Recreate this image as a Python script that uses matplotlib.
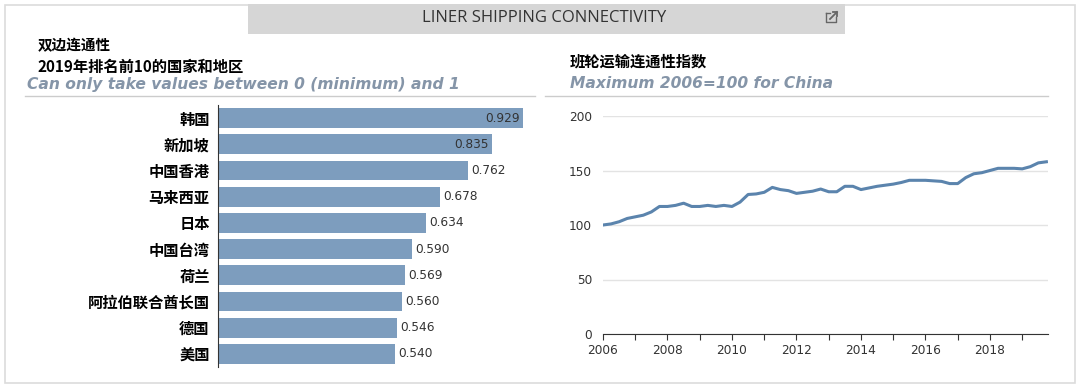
import numpy as np
import matplotlib
matplotlib.use("Agg")
import matplotlib.pyplot as plt
from matplotlib.patches import Rectangle
from matplotlib.lines import Line2D

plt.rcParams['font.family'] = ['Noto Sans CJK SC', 'DejaVu Sans']

# bar chart data
countries = ['韩国', '新加坡', '中国香港', '马来西亚', '日本',
             '中国台湾', '荷兰', '阿拉伯联合酋长国', '德国', '美国']
connectivity = [0.929, 0.835, 0.762, 0.678, 0.634,
                0.590, 0.569, 0.560, 0.546, 0.540]

# line chart data (quarterly, 2006Q1 - 2019Q4)
quarters = [2006 + i * 0.25 for i in range(56)]
lsci = [100, 101, 103, 106, 107.5, 109, 112, 117,
        117, 118, 120, 117, 117, 118, 117, 118,
        117, 121, 128, 128.5, 130, 134.5, 132.5, 131.5,
        129, 130, 131, 133, 130.5, 130.5, 135.5, 135.5,
        132.5, 134, 135.5, 136.5, 137.5, 139, 141, 141,
        141, 140.5, 140, 138, 138, 143.5, 147, 148,
        150, 152, 152, 152, 151.5, 153.5, 157, 158]
year_ticks = list(range(2006, 2020))
year_labels = [str(y) if y % 2 == 0 else '' for y in year_ticks]

W, H = 1080, 389
fig = plt.figure(figsize=(W / 100, H / 100), dpi=100)

def fx(px):
    return px / W

def fy(py):
    return 1 - py / H

# outer frame
fig.patches.append(Rectangle((fx(5), fy(383)), fx(1070), (378) / H,
                             transform=fig.transFigure, fill=False,
                             edgecolor='#dcdcdc', linewidth=1.2))
# header bar
fig.patches.append(Rectangle((fx(248), fy(34)), fx(597), 30 / H,
                             transform=fig.transFigure, facecolor='#d6d6d6',
                             edgecolor='none'))
fig.text(fx(544), fy(18), 'LINER SHIPPING CONNECTIVITY', ha='center', va='center',
         fontsize=12, color='#333333', family=['Open Sans', 'DejaVu Sans'])
# little external-link icon
icx, icy = 826, 11
fig.add_artist(Line2D([fx(icx), fx(icx), fx(icx + 10), fx(icx + 10)],
                      [fy(icy + 2), fy(icy + 11), fy(icy + 11), fy(icy + 6)],
                      transform=fig.transFigure, color='#666666', lw=1))
fig.add_artist(Line2D([fx(icx), fx(icx + 4)], [fy(icy + 2), fy(icy + 2)],
                      transform=fig.transFigure, color='#666666', lw=1))
fig.add_artist(Line2D([fx(icx + 4), fx(icx + 11)], [fy(icy + 8), fy(icy + 1)],
                      transform=fig.transFigure, color='#666666', lw=1.3))
fig.add_artist(Line2D([fx(icx + 7), fx(icx + 11), fx(icx + 11)],
                      [fy(icy + 1), fy(icy + 1), fy(icy + 5)],
                      transform=fig.transFigure, color='#666666', lw=1.3))

# titles
fig.text(fx(38), fy(45), '双边连通性', fontsize=10.5, fontweight='bold', va='center')
fig.text(fx(38), fy(67), '2019年排名前10的国家和地区', fontsize=11, fontweight='bold', va='center')
fig.text(fx(27), fy(84), 'Can only take values between 0 (minimum) and 1', fontsize=11.2,
         fontweight='bold', style='italic', color='#8595a8', va='center',
         family=['DejaVu Sans'])
fig.text(fx(570), fy(62), '班轮运输连通性指数', fontsize=11, fontweight='bold', va='center')
fig.text(fx(570), fy(84), 'Maximum 2006=100 for China', fontsize=11.2,
         fontweight='bold', style='italic', color='#8595a8', va='center',
         family=['DejaVu Sans'])
fig.add_artist(Line2D([fx(25), fx(535)], [fy(96), fy(96)], transform=fig.transFigure,
                      color='#cccccc', lw=1))
fig.add_artist(Line2D([fx(545), fx(1048)], [fy(96), fy(96)], transform=fig.transFigure,
                      color='#cccccc', lw=1))

# bar chart
ax1 = fig.add_axes([fx(218), fy(367), fx(328), 262 / H])
y = np.arange(len(countries))
ax1.barh(y, connectivity, height=0.76, color='#7d9dbe', edgecolor='none')
ax1.set_ylim(len(countries) - 0.5, -0.5)
ax1.set_xlim(0, 1)
ax1.set_yticks(y)
ax1.set_yticklabels(countries, fontsize=11, fontweight='bold')
ax1.tick_params(axis='y', length=0, pad=6)
ax1.set_xticks([])
for s in ['top', 'right', 'bottom']:
    ax1.spines[s].set_visible(False)
ax1.spines['left'].set_color('#333333')
for i, v in enumerate(connectivity):
    if v > 0.8:
        ax1.text(v - 0.01, i, f'{v:.3f}', ha='right', va='center', fontsize=8.7,
                 color='#333333', family=['DejaVu Sans'])
    else:
        ax1.text(v + 0.01, i, f'{v:.3f}', ha='left', va='center', fontsize=8.7,
                 color='#333333', family=['DejaVu Sans'])

# line chart
ax2 = fig.add_axes([fx(603), fy(334), fx(445), 218 / H])
ax2.plot(quarters, lsci, color='#5b84ad', lw=2.2)
ax2.set_xlim(2006, 2019.8)
ax2.set_ylim(0, 200)
ax2.set_yticks([0, 50, 100, 150, 200])
ax2.set_xticks(year_ticks)
ax2.set_xticklabels(year_labels, fontsize=8.7, family=['DejaVu Sans'])
ax2.set_yticklabels(['0', '50', '100', '150', '200'], fontsize=8.7, family=['DejaVu Sans'])
ax2.tick_params(axis='y', length=0, pad=8, colors='#333333')
ax2.tick_params(axis='x', length=4, direction='out', colors='#333333', pad=3)
ax2.grid(axis='y', color='#e3e3e3', lw=1)
ax2.set_axisbelow(True)
for s in ['top', 'right', 'left']:
    ax2.spines[s].set_visible(False)
ax2.spines['bottom'].set_color('#333333')

fig.savefig('out.png', dpi=100)
